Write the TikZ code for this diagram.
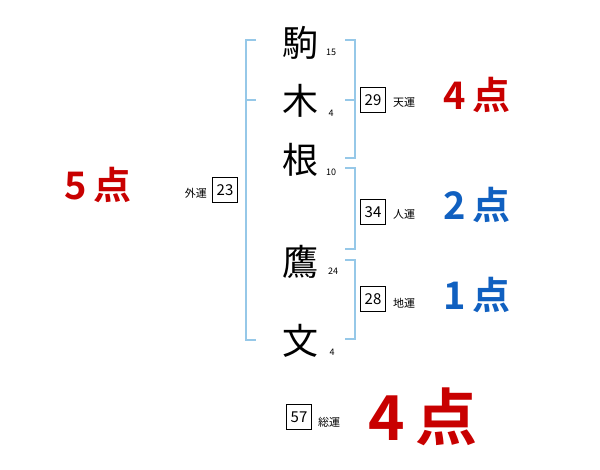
\documentclass[tikz,border=0pt]{standalone}
\usepackage{fontspec}
\setmainfont{Noto Sans CJK JP}[BoldFont={Noto Sans CJK JP Bold}]
\definecolor{brk}{RGB}{150,200,232}
\definecolor{ptred}{RGB}{200,0,0}
\definecolor{ptblue}{RGB}{16,96,192}
\begin{document}
\begin{tikzpicture}[x=1pt,y=-1pt,
  kanji/.style={inner sep=0pt, font=\fontsize{36}{36}\selectfont},
  strokes/.style={inner sep=0pt, font=\fontsize{9}{9}\selectfont},
  numbox/.style={draw, line width=0.8pt, minimum width=25pt, minimum height=25pt, inner sep=0pt, font=\fontsize{15}{15}\selectfont},
  unlab/.style={inner sep=0pt, font=\fontsize{11}{11}\selectfont},
  score/.style={inner sep=0pt, font=\fontsize{38}{38}\selectfont\bfseries},
  bigscore/.style={inner sep=0pt, font=\fontsize{62}{62}\selectfont\bfseries},
  bracket/.style={draw=brk, line width=2pt}]
\useasboundingbox (0,0) rectangle (600,470);
% names
\node[kanji] (k1) at (300,43) {駒};
\node[kanji] (k2) at (300,101) {木};
\node[kanji] (k3) at (300,160) {根};
\node[kanji] (k4) at (300,262) {鷹};
\node[kanji] (k5) at (300,341) {文};
\node[strokes] (s1) at (331,52) {15};
\node[strokes] (s2) at (331,113) {4};
\node[strokes] (s3) at (331,172) {10};
\node[strokes] (s4) at (333,271) {24};
\node[strokes] (s5) at (332,352) {4};
% left bracket
\draw[bracket] (256,40) -- (246,40) -- (246,340) -- (256,340);
\draw[bracket] (246,100) -- (256,100);
% right brackets
\draw[bracket] (345,40) -- (355,40) -- (355,158) -- (345,158);
\draw[bracket] (345,100) -- (355,100);
\draw[bracket] (345,168) -- (355,168) -- (355,249) -- (345,249);
\draw[bracket] (345,260) -- (355,260) -- (355,339) -- (345,339);
% boxes
\node[numbox] (b29) at (373,100) {29};
\node[unlab, anchor=west] (l29) at (393,102) {天運};
\node[numbox] (b34) at (373,212) {34};
\node[unlab, anchor=west] (l34) at (393,214) {人運};
\node[numbox] (b28) at (373,299) {28};
\node[unlab, anchor=west] (l28) at (393,303) {地運};
\node[numbox] (b23) at (225,190) {23};
\node[unlab, anchor=east] (l23) at (207,193) {外運};
\node[numbox] (b57) at (299,417) {57};
\node[unlab, anchor=west] (l57) at (318,422) {総運};
% scores
\node[score, text=ptred] (p1) at (477,95) {4\,点};
\node[score, text=ptblue] (p2) at (477,205) {2\,点};
\node[score, text=ptblue] (p3) at (477,295) {1\,点};
\node[score, text=ptred] (p4) at (98,185) {5\,点};
\node[bigscore, text=ptred] (p5) at (423,417) {4\,点};
\end{tikzpicture}
\end{document}
